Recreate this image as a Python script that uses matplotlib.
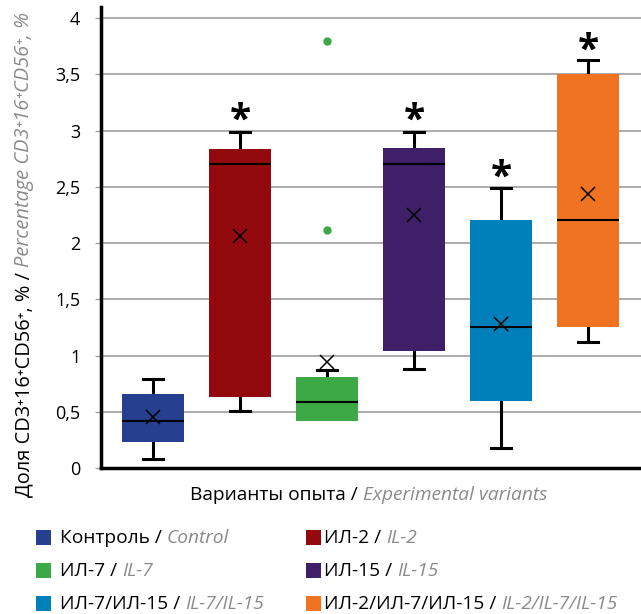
import matplotlib.pyplot as plt
from matplotlib.patches import Rectangle

plt.rcParams['font.family'] = ['Open Sans', 'DejaVu Sans']

# groups (legend text: russian / english)
groups_ru = ['Контроль', 'ИЛ-2', 'ИЛ-7', 'ИЛ-15', 'ИЛ-7/ИЛ-15', 'ИЛ-2/ИЛ-7/ИЛ-15']
groups_en = ['Control', 'IL-2', 'IL-7', 'IL-15', 'IL-7/IL-15', 'IL-2/IL-7/IL-15']
colors = ['#263f8e', '#930a0e', '#3da846', '#3f1f68', '#0080ba', '#f07322']

# box statistics
whislo = [0.08, 0.51, 0.42, 0.88, 0.18, 1.12]
q1 = [0.23, 0.63, 0.42, 1.04, 0.60, 1.25]
med = [0.42, 2.70, 0.59, 2.70, 1.25, 2.21]
q3 = [0.66, 2.84, 0.81, 2.85, 2.21, 3.50]
whishi = [0.79, 2.99, 0.87, 2.99, 2.49, 3.63]
means = [0.45, 2.06, 0.94, 2.25, 1.28, 2.44]
outliers = [[], [], [3.80, 2.12], [], [], []]
star_y = [None, 3.17, None, 3.17, 2.66, 3.79]

yticks = [0, 0.5, 1, 1.5, 2, 2.5, 3, 3.5, 4]
ytick_labels = ['0', '0,5', '1', '1,5', '2', '2,5', '3', '3,5', '4']

W, H = 641, 614
fig = plt.figure(figsize=(W / 100, H / 100), dpi=100)
ax = fig.add_axes([101 / W, 1 - 468 / H, 1 - 101 / W, 461 / H])

stats = []
for i in range(len(groups_ru)):
    stats.append(dict(whislo=whislo[i], q1=q1[i], med=med[i], q3=q3[i],
                      whishi=whishi[i], mean=means[i], fliers=outliers[i]))
pos = list(range(1, len(stats) + 1))

bp = ax.bxp(stats, positions=pos, widths=0.72, capwidths=0.23,
            patch_artist=True, showmeans=True, showfliers=True,
            boxprops=dict(linewidth=0, zorder=3),
            whiskerprops=dict(color='black', linewidth=2.2, zorder=2),
            capprops=dict(color='black', linewidth=2.2, zorder=2),
            medianprops=dict(color='black', linewidth=1.5, zorder=4),
            meanprops=dict(marker='x', markeredgecolor='black', markersize=10,
                           markeredgewidth=1.1, zorder=5),
            flierprops=dict(marker='o', markerfacecolor='#3da846',
                            markeredgecolor='none', markersize=6))
for box, c in zip(bp['boxes'], colors):
    box.set_facecolor(c)
    box.set_edgecolor(c)

# no lower whisker where it coincides with the box
for i in range(len(stats)):
    if whislo[i] == q1[i]:
        bp['caps'][2 * i].set_visible(False)
        bp['whiskers'][2 * i].set_visible(False)

# significance marks
for p, sy in zip(pos, star_y):
    if sy is not None:
        ax.text(p, sy - 0.18, '*', ha='center', va='baseline', fontsize=28,
                fontweight='bold', color='black')

ax.set_xlim(0.4, 6.61)
ax.set_ylim(0, 4.1)
ax.set_yticks(yticks)
ax.set_yticklabels(ytick_labels, fontsize=13)
ax.set_xticks([])
ax.tick_params(axis='y', length=4, width=1, color='#a0a0a0', pad=11)
ax.grid(axis='y', color='#a6a6a6', linewidth=1.3)
ax.set_axisbelow(True)
for s in ['top', 'right']:
    ax.spines[s].set_visible(False)
for s in ['left', 'bottom']:
    ax.spines[s].set_linewidth(2.5)

gray = '#8a8a8a'
fs = 13.75

# x axis title
t1 = fig.text(190 / W, 1 - 500 / H, 'Варианты опыта / ', fontsize=fs,
              ha='left', va='baseline')
ax.annotate('Experimental variants', xy=(1, 0), xycoords=t1, ha='left',
            va='bottom', fontsize=fs, style='italic', color=gray,
            annotation_clip=False)

# y axis title
y1 = fig.text(24 / W, 1 - 497 / H, 'Доля CD3\u207a16\u207aCD56\u207a, % / ',
              fontsize=14.4, rotation=90, ha='center', va='bottom')
ax.annotate('Percentage CD3\u207a16\u207aCD56\u207a, %', xy=(0.5, 1),
            xycoords=y1, ha='center', va='bottom', fontsize=14.4,
            style='italic', color=gray, rotation=90, annotation_clip=False)

# legend
rows = [538, 571, 604]
cols = [(36, 60), (306, 324)]
for i in range(len(groups_ru)):
    r, c = divmod(i, 2)
    sx, tx = cols[c]
    yc = rows[r]
    fig.patches.append(Rectangle((sx / W, 1 - (yc + 7) / H), 15 / W, 15 / H,
                                 transform=fig.transFigure,
                                 facecolor=colors[i], edgecolor='none'))
    lt = fig.text(tx / W, 1 - yc / H, groups_ru[i] + ' / ', fontsize=fs,
                  ha='left', va='center')
    ax.annotate(groups_en[i], xy=(1, 0), xycoords=lt, ha='left', va='bottom',
                fontsize=fs, style='italic', color=gray,
                annotation_clip=False)

plt.savefig('out.png', dpi=100)
